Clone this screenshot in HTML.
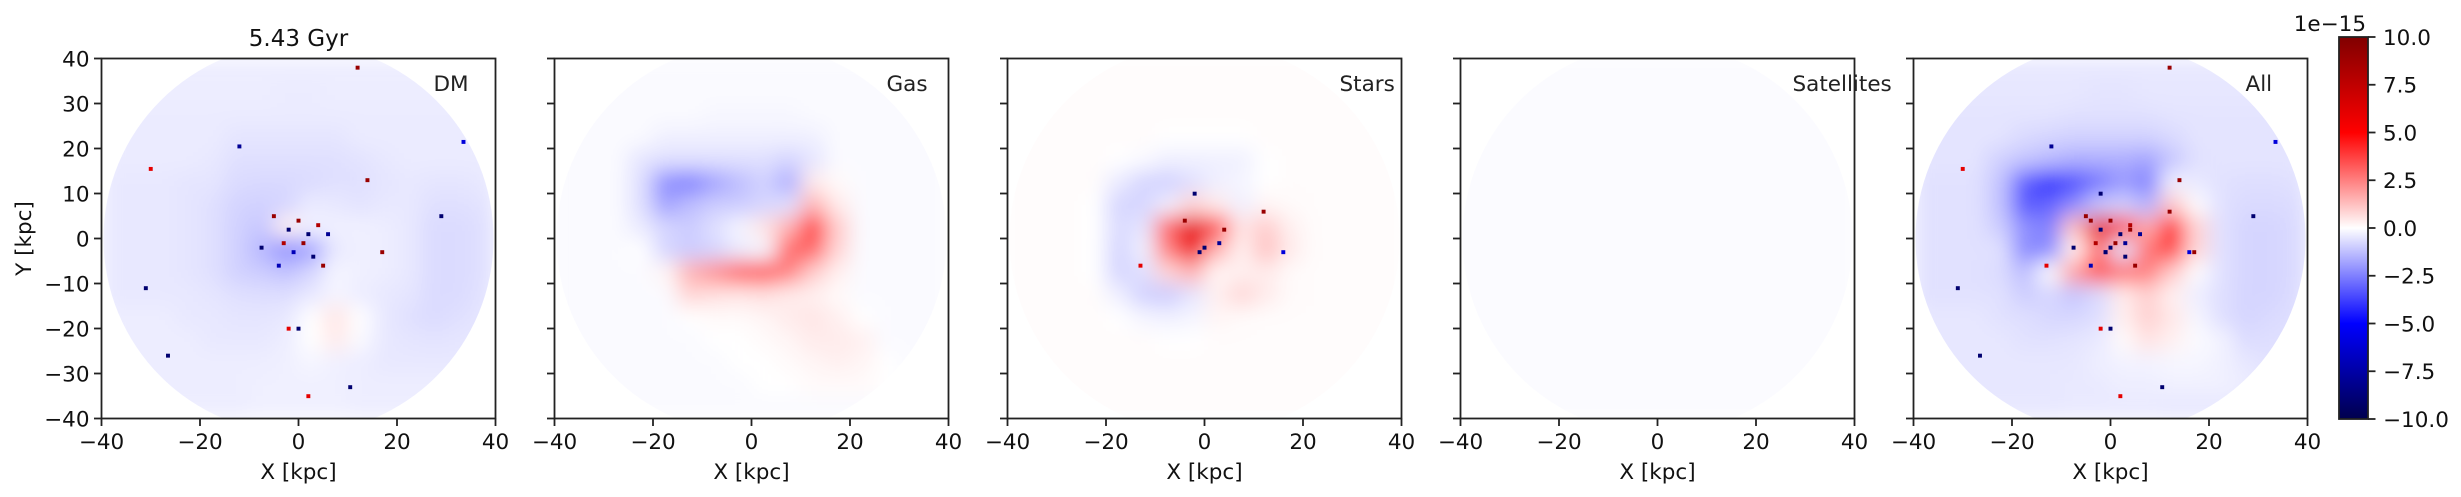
<!DOCTYPE html>
<html><head><meta charset="utf-8">
<style>
html,body{margin:0;padding:0;background:#fff;}
svg{display:block;font-family:"DejaVu Sans","Liberation Sans",sans-serif;}
</style></head>
<body>
<svg id="fig" width="2461" height="497" viewBox="0 0 2461 497" xmlns="http://www.w3.org/2000/svg">
<defs>
<linearGradient id="cbgrad" x1="0" y1="1" x2="0" y2="0">
<stop offset="0" stop-color="rgb(0,0,77)"/>
<stop offset="0.25" stop-color="rgb(0,0,255)"/>
<stop offset="0.5" stop-color="rgb(255,255,255)"/>
<stop offset="0.75" stop-color="rgb(255,0,0)"/>
<stop offset="1" stop-color="rgb(128,0,0)"/>
</linearGradient>
</defs>
</svg>
<script>
// ---- data (units of 1e-15), 16x16 coarse grids, rows top (y=37.5) -> bottom, cols x=-37.5..37.5
const panelNames = ["DM","Gas","Stars","Satellites","All"];
const xTicks = [-40,-20,0,20,40];
const yTicks = [-40,-30,-20,-10,0,10,20,30,40];
const cbTicks = [10.0,7.5,5.0,2.5,0.0,-2.5,-5.0,-7.5,-10.0];
const cbTickLabels = ["10.0","7.5","5.0","2.5","0.0","\u22122.5","\u22125.0","\u22127.5","\u221210.0"];
const dmGrid = [
[-0.35,-0.35,-0.35,-0.35,-0.35,-0.35,-0.35,-0.35,-0.35,-0.35,-0.35,-0.35,-0.35,-0.35,-0.35,-0.35],
[-0.35,-0.35,-0.35,-0.35,-0.35,-0.35,-0.35,-0.4,-0.4,-0.35,-0.35,-0.35,-0.35,-0.35,-0.35,-0.35],
[-0.4,-0.4,-0.4,-0.4,-0.4,-0.4,-0.4,-0.4,-0.4,-0.4,-0.4,-0.4,-0.4,-0.4,-0.4,-0.4],
[-0.4,-0.4,-0.4,-0.4,-0.4,-0.5,-0.5,-0.5,-0.5,-0.5,-0.4,-0.4,-0.4,-0.4,-0.4,-0.4],
[-0.4,-0.4,-0.4,-0.4,-0.45,-0.6,-0.6,-0.6,-0.6,-0.6,-0.55,-0.45,-0.4,-0.4,-0.4,-0.4],
[-0.45,-0.45,-0.45,-0.5,-0.5,-0.7,-0.75,-0.75,-0.7,-0.6,-0.6,-0.5,-0.45,-0.5,-0.5,-0.45],
[-0.45,-0.45,-0.45,-0.5,-0.6,-0.85,-0.9,-0.8,-0.4,-0.45,-0.55,-0.45,-0.45,-0.6,-0.6,-0.55],
[-0.45,-0.45,-0.45,-0.5,-0.6,-0.9,-1.1,0.3,-0.3,-0.3,-0.3,-0.35,-0.45,-0.7,-0.7,-0.6],
[-0.45,-0.45,-0.45,-0.5,-0.6,-0.9,-1.4,-2.2,-1.8,-0.45,-0.3,-0.35,-0.45,-0.7,-0.7,-0.6],
[-0.45,-0.45,-0.45,-0.5,-0.6,-0.9,-1.0,-1.2,-0.8,-0.2,-0.3,-0.35,-0.45,-0.7,-0.7,-0.6],
[-0.45,-0.45,-0.45,-0.45,-0.5,-0.6,-0.65,-0.65,-0.45,-0.2,-0.35,-0.45,-0.5,-0.7,-0.7,-0.55],
[-0.35,-0.35,-0.35,-0.45,-0.45,-0.5,-0.5,-0.45,0.0,0.5,0.0,-0.45,-0.6,-0.7,-0.6,-0.5],
[-0.35,-0.35,-0.35,-0.35,-0.45,-0.45,-0.45,-0.35,0.0,0.4,-0.1,-0.45,-0.5,-0.55,-0.5,-0.45],
[-0.35,-0.35,-0.35,-0.35,-0.35,-0.35,-0.35,-0.3,-0.2,-0.3,-0.35,-0.45,-0.45,-0.45,-0.45,-0.35],
[-0.35,-0.35,-0.35,-0.35,-0.35,-0.35,-0.3,-0.3,-0.3,-0.3,-0.35,-0.35,-0.35,-0.35,-0.35,-0.35],
[-0.35,-0.35,-0.35,-0.35,-0.35,-0.35,-0.3,-0.3,-0.3,-0.3,-0.35,-0.35,-0.35,-0.35,-0.35,-0.35]];
const gasGrid = [
[-0.1,-0.1,-0.1,-0.1,-0.1,-0.1,-0.1,-0.1,-0.1,-0.1,-0.1,-0.1,-0.1,-0.1,-0.1,-0.1],
[-0.1,-0.1,-0.1,-0.1,-0.1,-0.1,-0.1,-0.1,-0.1,-0.1,-0.1,-0.1,-0.1,-0.1,-0.1,-0.1],
[-0.1,-0.1,-0.1,-0.1,-0.1,-0.1,-0.15,-0.15,-0.15,-0.15,-0.1,-0.1,-0.1,-0.1,-0.1,-0.1],
[-0.1,-0.1,-0.1,-0.1,-0.3,-0.3,-0.3,-0.3,-0.3,-0.3,-0.3,-0.1,-0.1,-0.1,-0.1,-0.1],
[-0.1,-0.1,-0.1,-0.5,-0.6,-0.6,-0.6,-0.6,-0.6,-0.8,-0.5,-0.1,-0.1,-0.1,-0.1,-0.1],
[-0.1,-0.1,-0.1,-0.6,-2.2,-2.5,-1.8,-1.3,-0.9,-1.6,0.4,0.1,-0.1,-0.1,-0.1,-0.1],
[-0.1,-0.1,-0.1,-0.6,-1.8,-1.3,-1.0,-1.0,-0.8,-0.6,1.5,0.4,-0.1,-0.1,-0.1,-0.1],
[-0.1,-0.1,-0.1,-0.4,-0.8,-1.0,-0.6,-0.2,0.5,1.5,4.0,1.0,-0.1,-0.1,-0.1,-0.1],
[-0.1,-0.1,-0.1,0.0,-0.8,-1.0,-0.8,-0.4,-0.2,3.0,3.0,0.8,-0.1,-0.1,-0.1,-0.1],
[-0.1,-0.1,-0.1,-0.1,0.2,1.5,2.2,3.2,3.5,2.5,1.0,0.3,-0.1,-0.1,-0.1,-0.1],
[-0.1,-0.1,-0.1,-0.1,-0.1,0.8,0.6,0.5,0.6,0.4,0.3,0.1,-0.1,-0.1,-0.1,-0.1],
[-0.1,-0.1,-0.1,-0.1,-0.1,0.0,0.1,0.1,0.2,0.4,0.5,0.3,0.0,-0.1,-0.1,-0.1],
[-0.1,-0.1,-0.1,-0.1,-0.1,-0.1,0.0,0.0,0.1,0.2,0.4,0.4,0.3,-0.1,-0.1,-0.1],
[-0.1,-0.1,-0.1,-0.1,-0.1,-0.1,-0.1,0.0,0.0,0.1,0.2,0.3,0.2,0.0,-0.1,-0.1],
[-0.1,-0.1,-0.1,-0.1,-0.1,-0.1,-0.1,-0.1,0.0,0.0,0.1,0.1,0.1,0.0,-0.1,-0.1],
[-0.1,-0.1,-0.1,-0.1,-0.1,-0.1,-0.1,-0.1,-0.1,-0.1,-0.1,-0.1,-0.1,-0.1,-0.1,-0.1]];
const starsGrid = [
[0.05,0.05,0.05,0.05,0.05,0.05,0.05,0.05,0.05,0.05,0.05,0.05,0.05,0.05,0.05,0.05],
[0.05,0.05,0.05,0.05,0.05,0.05,0.05,0.05,0.05,0.05,0.05,0.05,0.05,0.05,0.05,0.05],
[0.05,0.05,0.05,0.05,0.05,0.05,0.05,0.05,0.05,0.05,0.05,0.05,0.05,0.05,0.05,0.05],
[0.05,0.05,0.05,0.05,0.05,0.05,0.0,0.0,0.0,0.0,0.05,0.05,0.05,0.05,0.05,0.05],
[0.05,0.05,0.05,0.05,0.0,-0.1,-0.3,-0.3,-0.3,-0.3,0.0,0.05,0.05,0.05,0.05,0.05],
[0.05,0.05,0.05,0.05,-0.4,-0.8,-0.9,-0.6,-0.3,-0.2,0.0,0.05,0.05,0.05,0.05,0.05],
[0.05,0.05,0.05,0.0,-0.8,-0.8,-0.3,0.8,0.4,-0.3,0.2,0.1,0.05,0.05,0.05,0.05],
[0.05,0.05,0.05,0.0,-0.7,-0.5,3.0,6.0,3.5,0.5,1.0,0.3,0.05,0.05,0.05,0.05],
[0.05,0.05,0.05,0.0,-0.8,-0.3,2.5,5.5,1.5,0.3,1.2,0.4,0.05,0.05,0.05,0.05],
[0.05,0.05,0.05,0.0,-0.8,-0.6,0.8,1.5,0.2,0.3,0.4,0.1,0.05,0.05,0.05,0.05],
[0.05,0.05,0.05,0.05,-0.3,-0.9,-1.0,-0.5,0.3,0.8,0.4,0.1,0.05,0.05,0.05,0.05],
[0.05,0.05,0.05,0.05,0.0,-0.2,-0.3,-0.2,0.2,0.1,0.05,0.05,0.05,0.05,0.05,0.05],
[0.05,0.05,0.05,0.05,0.05,0.05,0.0,0.0,0.05,0.05,0.05,0.05,0.05,0.05,0.05,0.05],
[0.05,0.05,0.05,0.05,0.05,0.05,0.05,0.05,0.05,0.05,0.05,0.05,0.05,0.05,0.05,0.05],
[0.05,0.05,0.05,0.05,0.05,0.05,0.05,0.05,0.05,0.05,0.05,0.05,0.05,0.05,0.05,0.05],
[0.05,0.05,0.05,0.05,0.05,0.05,0.05,0.05,0.05,0.05,0.05,0.05,0.05,0.05,0.05,0.05]];
const satLevel = -0.08;
// outlier pixels [x kpc, y kpc, value]
const dmSpots = [[33.5,21.5,-6],[12,38,9],[-30,15.5,6],[2,-35,6],[-26.5,-26,-9],[-31,-11,-9],[10.5,-33,-9],[14,13,9],[29,5,-9],[-12,20.5,-8],[-2,-20,6],[0,-20,-9],[17,-3,9],[-7.5,-2,-9],[-5,5,9],[-2,2,-9],[1,-1,9],[3,-4,-9],[-1,-3,-7],[4,3,8],[2,1,-9],[-3,-1,8],[5,-6,9],[-4,-6,-7],[0,4,9],[6,1,-8]];
const starSpots = [[12,6,9],[16,-3,-6],[-2,10,-9],[-13,-6,6],[0,-2,-9],[3,-1,-8],[-1,-3,-9],[4,2,9],[-4,4,9]];

const W=394, H=360, TOP=58.5;
const lefts=[101.5,554.5,1007.5,1460.5,1913.5];
const svg=document.getElementById('fig');
const NS="http://www.w3.org/2000/svg";
function el(tag,attrs,parent){const e=document.createElementNS(NS,tag);for(const k in attrs)e.setAttribute(k,attrs[k]);(parent||svg).appendChild(e);return e;}
function seismic(v){let t=(v+10)/20;t=Math.max(0,Math.min(1,t));let r,g,b;
 if(t<0.25){r=0;g=0;b=0.3+0.7*t/0.25;}else if(t<0.5){const s=(t-0.25)/0.25;r=s;g=s;b=1;}
 else if(t<0.75){const s=(t-0.5)/0.25;r=1;g=1-s;b=1-s;}else{const s=(t-0.75)/0.25;r=1-0.5*s;g=0;b=0;}
 return `rgb(${Math.round(r*255)},${Math.round(g*255)},${Math.round(b*255)})`;}
function gridFor(p,i,j){
 if(p===0)return dmGrid[i][j];if(p===1)return gasGrid[i][j];if(p===2)return starsGrid[i][j];
 if(p===3)return satLevel;return dmGrid[i][j]+gasGrid[i][j]+starsGrid[i][j]+satLevel;}
const labels=["X [kpc]"];
for(let p=0;p<5;p++){
 const L=lefts[p];
 const xs=v=>L+(v+40)/80*W, ys=v=>TOP+(40-v)/80*H;
 const cp=el('clipPath',{id:'clip'+p});
 el('circle',{cx:xs(0),cy:ys(0),r:39.6/80*W},cp);
 const f=el('filter',{id:'blur'+p,filterUnits:'userSpaceOnUse',x:L,y:TOP,width:W,height:H});
 el('feGaussianBlur',{stdDeviation:10,edgeMode:'duplicate'},f);
 const panel=el('g',{});
 
 
 const outer=el('g',{'clip-path':`url(#clip${p})`},panel);
 
 
 const g=el('g',{filter:`url(#blur${p})`},outer);
 for(let i=0;i<16;i++)for(let j=0;j<16;j++){
  const xc=-37.5+5*j, yc=37.5-5*i;
  const c=el('rect',{x:xs(xc-2.5),y:ys(yc+2.5),width:xs(xc+2.5)-xs(xc-2.5)+0.5,height:ys(yc-2.5)-ys(yc+2.5)+0.5,fill:seismic(gridFor(p,i,j))},g);
  
  
 }
 let spots=[];
 if(p===0)spots=dmSpots;if(p===2)spots=starSpots;if(p===4)spots=dmSpots.concat(starSpots);
 spots.forEach(s=>{const sz=0.8;
  const r=el('rect',{x:xs(s[0]-sz/2),y:ys(s[1]+sz/2),width:xs(sz)-xs(0),height:xs(sz)-xs(0),fill:seismic(s[2])},outer);
  
  
 });
 const frame=el('rect',{x:L,y:TOP,width:W,height:H,fill:'none',stroke:'#222',"stroke-width":1.8},panel);
 
 
 xTicks.forEach(t=>{
  el('line',{x1:xs(t),x2:xs(t),y1:TOP+H,y2:TOP+H+7.5,stroke:'#222','stroke-width':1.8},panel);
  const tl=el('text',{x:xs(t),y:449,'font-size':21.5,'text-anchor':'middle',fill:'#111'},panel);
  tl.textContent=(t<0?'\u2212':'')+Math.abs(t);
  
  
 });
 yTicks.forEach(t=>{
  el('line',{x1:L-7.5,x2:L,y1:ys(t),y2:ys(t),stroke:'#222','stroke-width':1.8},panel);
  if(p===0){const tl=el('text',{x:L-12,y:ys(t)+7.8,'font-size':21.5,'text-anchor':'end',fill:'#111'},panel);
   tl.textContent=(t<0?'\u2212':'')+Math.abs(t);
   
   }
 });
 const xl=el('text',{x:L+W/2,y:479,'font-size':21.5,'text-anchor':'middle',fill:'#111'},panel);
 xl.textContent=labels[0];
 
 
 const nl=el('text',{x:L+332,y:91,'font-size':21.5,fill:'#222'},panel);
 nl.textContent=panelNames[p];
 
 
}
const title=el('text',{x:lefts[0]+W/2,y:46,'font-size':23,'text-anchor':'middle',fill:'#111'});
title.textContent="5.43 Gyr";


const yl=el('text',{x:0,y:0,'font-size':21.5,'text-anchor':'middle',fill:'#111',transform:`translate(31,${TOP+H/2}) rotate(-90)`});
yl.textContent="Y [kpc]";


// colorbar
const CBX=2339,CBY=37,CBW=29,CBH=382;
const cb=el('g',{});


el('rect',{x:CBX,y:CBY,width:CBW,height:CBH,fill:'url(#cbgrad)',stroke:'#222','stroke-width':1.8},cb);
const cbs=v=>CBY+(10-v)/20*CBH;
cbTicks.forEach((t,k)=>{
 el('line',{x1:CBX+CBW,x2:CBX+CBW+7.5,y1:cbs(t),y2:cbs(t),stroke:'#222','stroke-width':1.8},cb);
 const tl=el('text',{x:CBX+CBW+15,y:cbs(t)+7.8,'font-size':21.5,fill:'#111'},cb);
 tl.textContent=cbTickLabels[k];
 
 
});
const ex=el('text',{x:CBX+CBW-2,y:31,'font-size':21.5,'text-anchor':'end',fill:'#111'},cb);
ex.textContent="1e\u221215";


</script>
</body></html>
